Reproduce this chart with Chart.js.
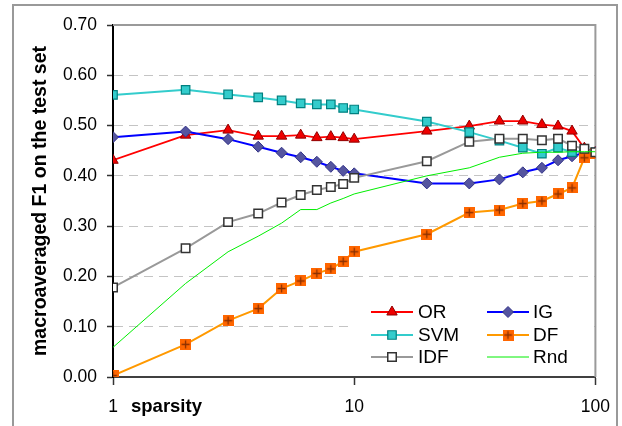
<!DOCTYPE html>
<html><head><meta charset="utf-8">
<script src="https://cdn.jsdelivr.net/npm/chart.js@4"></script>
<style>html,body{margin:0;padding:0;background:#fff;}canvas{display:block;}</style>
</head><body>
<canvas id="c" width="622" height="426"></canvas>
<script>
// ---- data ----
const sparsity = [1,2,3,4,5,6,7,8,9,10,20,30,40,50,60,70,80,90,100];
const orValues  = [0.431,0.481,0.491,0.479,0.479,0.481,0.476,0.478,0.476,0.473,0.489,0.499,0.509,0.509,0.502,0.499,0.489,0.455,0.447];
const igValues  = [0.477,0.488,0.473,0.458,0.446,0.437,0.428,0.418,0.410,0.405,0.385,0.385,0.393,0.407,0.416,0.431,0.439,0.446,0.447];
const svmValues = [0.561,0.571,0.562,0.556,0.550,0.544,0.542,0.542,0.535,0.532,0.508,0.487,0.470,0.456,0.444,0.456,0.447,0.450,0.447];
const dfValues  = [0.003,0.065,0.112,0.136,0.176,0.191,0.206,0.215,0.230,0.249,0.284,0.327,0.332,0.345,0.350,0.364,0.376,0.436,0.445];
const idfValues = [0.178,0.256,0.308,0.325,0.347,0.362,0.372,0.378,0.384,0.396,0.429,0.468,0.474,0.474,0.471,0.474,0.460,0.454,0.447];
const rndValues = [0.059,0.186,0.249,0.280,0.306,0.333,0.333,0.346,0.355,0.364,0.400,0.416,0.437,0.445,0.447,0.447,0.448,0.448,0.448];
const xTickValues = [1,10,100];
const yTickValues = [0,0.1,0.2,0.3,0.4,0.5,0.6,0.7];
const seriesNames = ['OR','IG','SVM','DF','IDF','Rnd'];
const yTitle = 'macroaveraged F1 on the test set';
const xTitle = 'sparsity';

const FONT = '"Liberation Sans", Arial, sans-serif';

function dfMarker(){
  const c=document.createElement('canvas'); c.width=11; c.height=11;
  const g=c.getContext('2d');
  g.fillStyle='#ff6600'; g.fillRect(0,0,11,11);
  g.strokeStyle='#8a3000'; g.lineWidth=1.3;
  g.beginPath(); g.moveTo(5.5,1.5); g.lineTo(5.5,9.5); g.moveTo(1.5,5.5); g.lineTo(9.5,5.5); g.stroke();
  return c;
}
const DFM = dfMarker();

const styles = {
  OR:  {line:'#ff0000', lw:1.8, ps:'triangle', r:6,   bg:'#ee0000', bc:'#900000', bw:1},
  IG:  {line:'#0000ff', lw:2,   ps:'rectRot',  r:5.5, bg:'#55559f', bc:'#333388', bw:1},
  SVM: {line:'#33cccc', lw:2,   ps:'rect',     r:6,   bg:'#33cccc', bc:'#008080', bw:1.2},
  DF:  {line:'#ff9900', lw:2,   ps:DFM,        r:6,   bg:'#ff6600', bc:'#ff6600', bw:0},
  IDF: {line:'#999999', lw:2,   ps:'rect',     r:6,   bg:'#ffffff', bc:'#333333', bw:1.5},
  Rnd: {line:'#00ee00', lw:1,   ps:false,      r:0,   bg:'#00ee00', bc:'#00ee00', bw:0}
};
const valuesBy = {OR:orValues, IG:igValues, SVM:svmValues, DF:dfValues, IDF:idfValues, Rnd:rndValues};

const datasets = seriesNames.map((n,i)=>{
  const s=styles[n];
  return {
    label:n,
    data: sparsity.map((x,j)=>({x:x, y:valuesBy[n][j]})),
    borderColor:s.line, borderWidth:s.lw, backgroundColor:s.bg,
    pointStyle:s.ps, pointRadius:s.r, pointHoverRadius:s.r,
    pointBackgroundColor:s.bg, pointBorderColor:s.bc, pointBorderWidth:s.bw,
    tension:0, fill:false, order: seriesNames.length - i
  };
});

function drawMarker(ctx, n, x, y){
  const s=styles[n];
  if(!s.ps) return;
  ctx.save();
  if(s.ps===DFM){ ctx.drawImage(DFM, x-5.5, y-5.5); ctx.restore(); return; }
  ctx.fillStyle=s.bg; ctx.strokeStyle=s.bc; ctx.lineWidth=s.bw;
  ctx.beginPath();
  const r=s.r;
  if(s.ps==='triangle'){
    ctx.moveTo(x, y-r); ctx.lineTo(x+0.866*r, y+0.5*r); ctx.lineTo(x-0.866*r, y+0.5*r); ctx.closePath();
  } else if(s.ps==='rectRot'){
    ctx.moveTo(x-r,y); ctx.lineTo(x,y-r); ctx.lineTo(x+r,y); ctx.lineTo(x,y+r); ctx.closePath();
  } else {
    const h=Math.SQRT1_2*r; ctx.rect(x-h,y-h,2*h,2*h);
  }
  ctx.fill(); if(s.bw) ctx.stroke();
  ctx.restore();
}

const decor = {
  id:'decor',
  beforeDraw(chart){
    const ctx=chart.ctx;
    ctx.save();
    ctx.fillStyle='#fff'; ctx.fillRect(0,0,chart.width,chart.height);
    ctx.strokeStyle='#999'; ctx.lineWidth=2;
    ctx.strokeRect(13,5,604,440);
    ctx.restore();
  },
  beforeDatasetsDraw(chart){
    const {ctx, chartArea:a}=chart;
    ctx.save();
    ctx.strokeStyle='#9a9a9a'; ctx.lineWidth=2;
    ctx.beginPath(); ctx.moveTo(a.left, a.top); ctx.lineTo(a.right, a.top); ctx.lineTo(a.right, a.bottom); ctx.stroke();
    ctx.restore();
  },
  afterDatasetsDraw(chart){
    const ctx=chart.ctx;
    ctx.save();
    ctx.fillStyle='#fff'; ctx.fillRect(352,297,236,72);
    const rows=[312,335,357];
    const cols=[{l0:371,l1:413,m:392,t:418},{l0:487,l1:529,m:508,t:533}];
    seriesNames.forEach((n,i)=>{
      const c=cols[i%2], y=rows[Math.floor(i/2)], s=styles[n];
      ctx.strokeStyle=s.line; ctx.lineWidth=s.lw;
      ctx.beginPath(); ctx.moveTo(c.l0,y); ctx.lineTo(c.l1,y); ctx.stroke();
      drawMarker(ctx,n,c.m,y);
      ctx.fillStyle='#000'; ctx.font='19px '+FONT; ctx.textBaseline='middle'; ctx.textAlign='left';
      ctx.fillText(n, c.t, y+1);
    });
    // x axis title placed beside the first tick label
    ctx.fillStyle='#000'; ctx.font='bold 18.5px '+FONT; ctx.textBaseline='alphabetic'; ctx.textAlign='left';
    ctx.fillText(xTitle, 131, 412);
    ctx.restore();
  }
};

new Chart(document.getElementById('c'), {
  type:'line',
  data:{datasets},
  options:{
    responsive:false, animation:false, devicePixelRatio:1,
    layout:{padding:{top:25,right:23,left:0,bottom:0}},
    plugins:{legend:{display:false}, tooltip:{enabled:false}},
    font:{family:FONT},
    scales:{
      x:{
        type:'logarithmic', min:1, max:100, position:'bottom',
        afterBuildTicks:s=>{ s.ticks = xTickValues.map(v=>({value:v, major:true})); },
        afterFit:s=>{ s.height=49; },
        ticks:{callback:v=>String(v), autoSkip:false, maxRotation:0, color:'#000', padding:12, font:{family:FONT, size:17.5}},
        grid:{drawOnChartArea:false, drawTicks:true, tickLength:8, tickColor:'#333', tickWidth:1.5},
        border:{color:'#404040', width:2}
      },
      y:{
        min:0, max:0.7,
        afterBuildTicks:s=>{ s.ticks = yTickValues.map(v=>({value:v})); },
        afterFit:s=>{ s.width=113; },
        ticks:{callback:v=>Number(v).toFixed(2), color:'#000', padding:10, font:{family:FONT, size:17.5}},
        grid:{color:c=>{const v=c.tick?c.tick.value:0; return (v<=0.0001||v>=0.6999)?'rgba(0,0,0,0)':'#c4c4c4';}, lineWidth:1, tickLength:6, tickColor:'#333', tickWidth:1.5, tickBorderDash:[]},
        border:{color:'#000', width:2, dash:[9,6]},
        title:{display:true, text:yTitle, color:'#000', font:{family:FONT, size:19.5, weight:'bold'}, padding:{top:29,bottom:0}}
      }
    }
  },
  plugins:[decor]
});
</script>
</body></html>
